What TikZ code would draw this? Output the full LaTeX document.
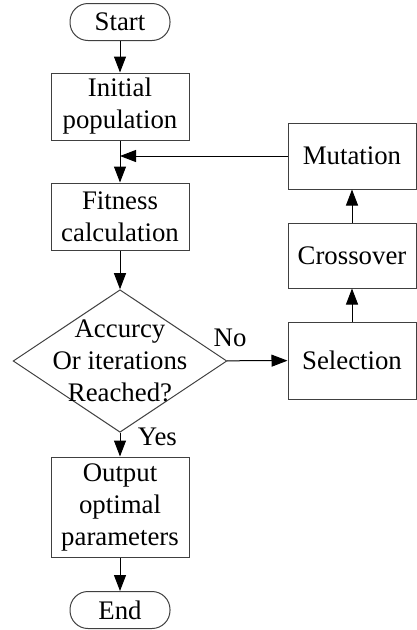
\documentclass[tikz,border=0pt]{standalone}
\usepackage{fontspec}
\setmainfont{Liberation Serif}
\usetikzlibrary{arrows.meta,shapes.geometric}
\begin{document}
\begin{tikzpicture}[x=1pt,y=-1pt,line width=1pt,
  font=\fontsize{26.8}{32}\selectfont,
  box/.style={draw=black!75,align=center,inner sep=0pt,minimum width=138,minimum height=67},
  term/.style={draw=black!75,rounded corners=18pt,inner sep=0pt,minimum width=100,minimum height=37},
  test/.style={draw=black!75,shape=diamond,shape aspect=1.5,align=center,inner sep=-8.8pt},
  arr/.style={-{Triangle[length=16pt,width=12pt]}}]
\useasboundingbox (0,0) rectangle (417,630);
\node[term] (start) at (120,22) {Start};
\node[box] (init) at (120,106.5) {Initial\\population};
\node[box] (fit) at (120,216.5) {Fitness\\calculation};
\node[test] (check) at (120,361) {Accurcy\\Or iterations\\Reached?};
\node[box,minimum height=100] (out) at (120,507) {Output\\optimal\\parameters};
\node[term] (end) at (120,610) {End};
\foreach \n/\y/\h/\t in {sel/360.5/77/Selection,cro/255.5/65/Crossover,mut/156/66/Mutation}
  \node[box,minimum width=128,minimum height=\h] (\n) at (352,\y) {\t};
\coordinate (join) at (120,156);
\draw[arr] (start) -- (init);
\draw[arr] (init) -- (fit);
\draw[arr] (fit) -- (check);
\draw[arr] (check) -- node[pos=0.16,right=14pt] {Yes} (out);
\draw[arr] (out) -- (end);
\draw[arr] (check) -- node[pos=0.05,above=10pt] {No} (sel);
\draw[arr] (sel) -- (cro);
\draw[arr] (cro) -- (mut);
\draw[arr] (mut) -- (join);
\end{tikzpicture}
\end{document}
